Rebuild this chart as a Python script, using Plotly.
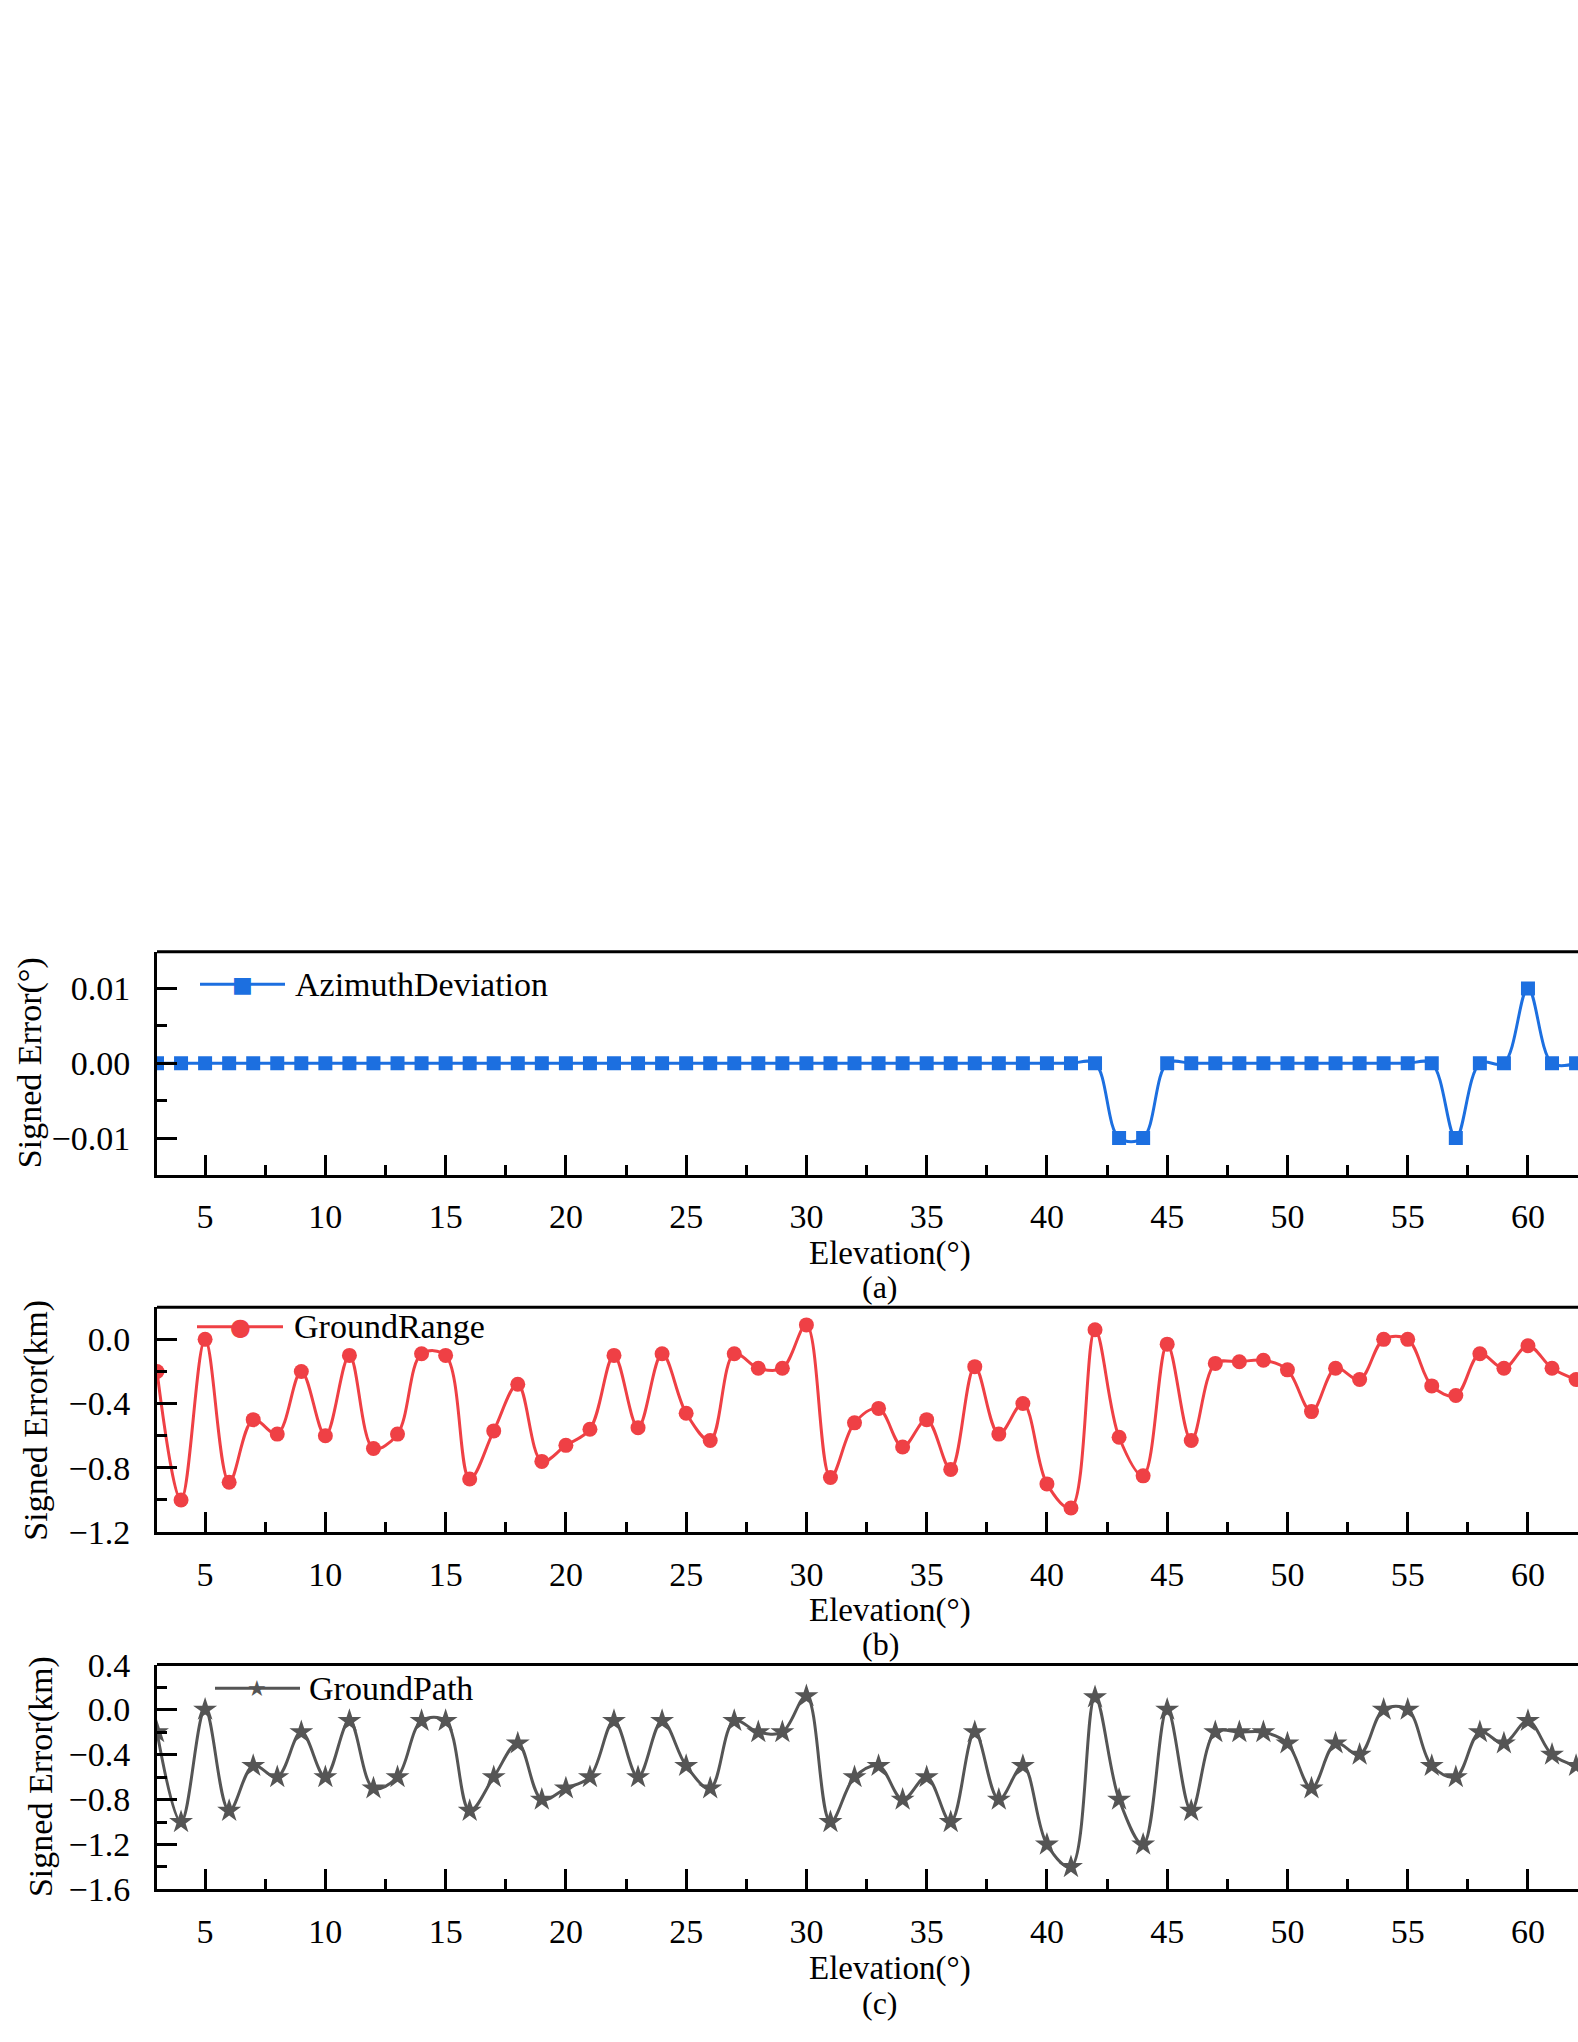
import plotly.graph_objects as go
from plotly.subplots import make_subplots

# elevation angles (deg) where the markers sit
elevation = list(range(3, 63))

azimuth_dev = [0.0] * 40 + [-0.01, -0.01] + [0.0] * 12 + [-0.01, 0.0, 0.0, 0.01, 0.0, 0.0]

ground_range = [
    -0.20, -1.00, 0.00, -0.89, -0.50, -0.59, -0.20, -0.60, -0.10, -0.68,
    -0.59, -0.09, -0.10, -0.87, -0.57, -0.28, -0.76, -0.66, -0.56, -0.10,
    -0.55, -0.09, -0.46, -0.63, -0.09, -0.18, -0.18, 0.09, -0.86, -0.52,
    -0.43, -0.67, -0.50, -0.81, -0.17, -0.59, -0.40, -0.90, -1.05, 0.06,
    -0.61, -0.85, -0.03, -0.63, -0.15, -0.14, -0.13, -0.19, -0.45, -0.18,
    -0.25, 0.00, 0.00, -0.29, -0.35, -0.09, -0.18, -0.04, -0.18, -0.25,
]

ground_path = [
    -0.20, -1.00, 0.00, -0.90, -0.50, -0.60, -0.20, -0.60, -0.10, -0.70,
    -0.60, -0.10, -0.10, -0.90, -0.60, -0.30, -0.80, -0.70, -0.60, -0.10,
    -0.60, -0.10, -0.50, -0.70, -0.10, -0.20, -0.20, 0.12, -1.00, -0.60,
    -0.50, -0.80, -0.60, -1.00, -0.20, -0.80, -0.50, -1.20, -1.40, 0.11,
    -0.80, -1.20, 0.00, -0.90, -0.20, -0.20, -0.20, -0.30, -0.70, -0.30,
    -0.40, 0.00, 0.00, -0.50, -0.60, -0.20, -0.30, -0.10, -0.40, -0.50,
]

series_names = ["AzimuthDeviation", "GroundRange", "GroundPath"]
series_colors = ["#1c6fe0", "#ef4045", "#555555"]
series_symbols = ["square", "circle", "star"]
legend_glyphs = ["\u25A0", "\u25CF", "\u2605"]
y_titles = ["Signed Error(\u00b0)", "Signed Error(km)", "Signed Error(km)"]
panel_tags = ["(a)", "(b)", "(c)"]

W, H = 1578, 2042
LEFT = 157
FONT = "Liberation Serif, Times New Roman, serif"


def px(x):
    return (x - LEFT) / (W - LEFT)


def py(y):
    return 1 - y / H


fig = make_subplots(rows=3, cols=1)

data = [azimuth_dev, ground_range, ground_path]
sizes = [14, 15, 18]
for i, vals in enumerate(data):
    fig.add_trace(go.Scatter(
        x=elevation, y=vals, mode="lines+markers",
        line=dict(color=series_colors[i], width=3, shape="spline", smoothing=1),
        marker=dict(symbol=series_symbols[i], size=sizes[i], color=series_colors[i]),
        name=series_names[i], showlegend=False,
    ), row=i + 1, col=1)

# panel geometry in page pixels (top, bottom)
panels = [(951, 1178), (1313, 1542), (1677, 1906)]
y_ranges = [[-0.0149, 0.0149], [-1.2, 0.2], [-1.6, 0.4]]
y_dticks = [0.01, 0.4, 0.4]
y_minor = [0.005, 0.2, 0.2]
y_fmt = [".2f", ".1f", ".1f"]

for i in range(3):
    top, bot = panels[i]
    fig.update_yaxes(
        domain=[py(bot), py(top)], range=y_ranges[i], dtick=y_dticks[i], tick0=0,
        tickformat=y_fmt[i], ticks="inside", ticklen=20, tickwidth=3, tickcolor="black",
        minor=dict(ticks="inside", ticklen=10, tickwidth=3, tickcolor="black", dtick=y_minor[i], tick0=0),
        showline=True, linewidth=3, linecolor="black", showgrid=False, zeroline=False,
        ticklabelstandoff=17,
        tickfont=dict(family=FONT, size=34, color="black"),
        row=i + 1, col=1,
    )
    fig.update_xaxes(
        range=[3, 62.08], dtick=5, tick0=0,
        ticks="inside", ticklen=20, tickwidth=3, tickcolor="black",
        minor=dict(ticks="inside", ticklen=10, tickwidth=3, tickcolor="black", dtick=2.5, tick0=0),
        showline=True, linewidth=3, linecolor="black", showgrid=False, zeroline=False,
        ticklabelstandoff=10,
        tickfont=dict(family=FONT, size=34, color="black"),
        row=i + 1, col=1,
    )

# top frame lines
for i in range(3):
    sfx = "" if i == 0 else str(i + 1)
    fig.add_shape(type="line", xref="x" + sfx + " domain", yref="y" + sfx + " domain",
                  x0=0, x1=1, y0=1, y1=1, line=dict(color="black", width=3))

title_y = [1258, 1622, 1987]
tag_y = [1292, 1656, 2022]
ytitle_x = [30, 36, 41]
legend_y = [984, 1333, 1701]
legend_x = [(200, 285, 242, 293), (197, 283, 240, 292), (215, 300, 257, 307)]
glyph_sizes = [22, 24, 22]


def label(text, x, y, size=34, family=FONT, color="black", angle=0, xanchor="center"):
    return dict(text=text, x=px(x), y=py(y), xref="paper", yref="paper",
                xanchor=xanchor, yanchor="middle", textangle=angle, showarrow=False,
                font=dict(family=family, size=size, color=color))


ann = []
for i in range(3):
    top, bot = panels[i]
    ann.append(label("Elevation(\u00b0)", 890, title_y[i], size=33))
    ann.append(label(panel_tags[i], 880, tag_y[i], size=32))
    ann.append(label(y_titles[i], ytitle_x[i], (top + bot) / 2, angle=-90))
    # hand-made legend entry
    x0, x1, xm, xt = legend_x[i]
    fig.add_shape(type="line", xref="paper", yref="paper", x0=px(x0), x1=px(x1),
                  y0=py(legend_y[i]), y1=py(legend_y[i]),
                  line=dict(color=series_colors[i], width=3))
    ann.append(label(legend_glyphs[i], xm, legend_y[i], size=glyph_sizes[i],
                     family="DejaVu Sans", color=series_colors[i]))
    ann.append(label(series_names[i], xt, legend_y[i], xanchor="left"))

fig.update_layout(
    width=W, height=H,
    margin=dict(l=LEFT, r=0, t=0, b=0),
    plot_bgcolor="white", paper_bgcolor="white",
    annotations=ann,
    showlegend=False,
)

fig.write_html("out.html", config={"displayModeBar": False},
               post_script="document.body.style.margin='0';")
